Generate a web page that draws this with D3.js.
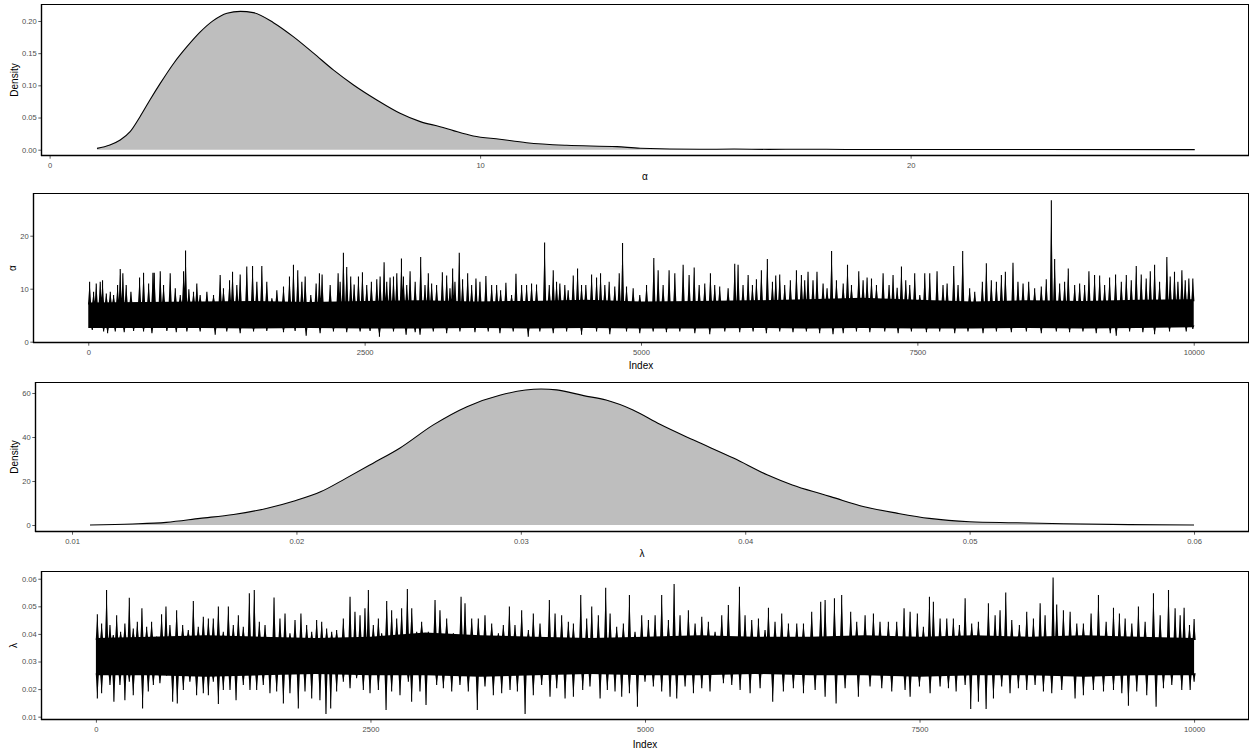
<!DOCTYPE html>
<html>
<head>
<meta charset="utf-8" />
<title>Posterior density and trace of alpha and lambda</title>
<script src="https://d3js.org/d3.v7.min.js"></script>
<style>
  body { margin: 0; background: #fff; }
  text { font-family: "Liberation Sans", Arial, sans-serif; }
</style>
</head>
<body>
<svg width="1249" height="754"></svg>
<script>
// ---- density of alpha: [alpha, density]
const alphaDensity = [
  [1.10,0.0021],[1.40,0.0073],[1.64,0.015],[1.87,0.028],[2.10,0.0513],[2.33,0.0772],
  [2.57,0.103],[2.88,0.134],[3.19,0.160],[3.50,0.183],[3.80,0.2005],[4.12,0.212],
  [4.43,0.215],[4.73,0.213],[5.20,0.1974],[5.66,0.1757],[6.13,0.150],[6.59,0.124],
  [7.06,0.1006],[7.60,0.0773],[8.14,0.0566],[8.61,0.0436],[9.07,0.0358],[9.38,0.0296],
  [9.84,0.0213],[10.46,0.0162],[11.08,0.0109],[12.01,0.0068],[13.18,0.0047],[13.72,0.0022],
  [15.1,0.0006],[15.9,0.001],[16.7,0.0005],[17.5,0.0008],[18.5,0.0004],[20,0.0003],
  [23,0.0002],[26.6,0.0001]
];

// ---- density of lambda: [lambda, density]
const lambdaDensity = [
  [0.0108,0],[0.0127,0.45],[0.0142,1.2],[0.0157,3.0],[0.0172,4.8],[0.0187,7.6],
  [0.0199,10.9],[0.0211,15.2],[0.0222,21.2],[0.0234,28.0],[0.0246,34.9],[0.0261,45.5],
  [0.0276,53.8],[0.0291,59.1],[0.0309,61.8],[0.0316,61.4],[0.0328,58.8],[0.0338,56.8],
  [0.0350,52.3],[0.0362,45.8],[0.0377,38.6],[0.0395,30.3],[0.0410,22.7],[0.0421,18.2],
  [0.0433,14.4],[0.0438,12.9],[0.0453,8.3],[0.0468,5.3],[0.0482,3.0],[0.0500,1.5],
  [0.0520,1.05],[0.0542,0.6],[0.0571,0.15],[0.0600,0]
];

// ---- trace plots: dense core band every 500 iterations
const coreIdx = [0,500,1000,1500,2000,2500,3000,3500,4000,4500,5000,5500,6000,6500,7000,7500,8000,8500,9000,9500,10000];
const alphaCoreHi = [7.4,7.5,7.6,7.7,7.5,7.7,7.8,7.6,7.7,7.9,7.6,7.7,7.8,8.0,8.3,7.9,7.6,7.8,7.7,7.9,8.0];
const alphaCoreLo = [2.6,2.6,2.6,2.5,2.6,2.5,2.5,2.6,2.5,2.6,2.5,2.5,2.6,2.5,2.6,2.5,2.5,2.6,2.5,2.6,2.7];
const lambdaCoreHi = [0.0385,0.039,0.0395,0.039,0.0385,0.039,0.0405,0.0395,0.039,0.0385,0.039,0.0395,0.039,0.039,0.0395,0.039,0.0395,0.039,0.0395,0.039,0.0385];
const lambdaCoreLo = [0.025,0.025,0.0245,0.025,0.0255,0.025,0.025,0.0245,0.025,0.0255,0.025,0.025,0.0255,0.025,0.025,0.0245,0.025,0.025,0.0245,0.025,0.025];

// ---- single draws that stick out of the band: [iteration, value]
const alphaUp = [
  [12,11.3],[48,9.4],[72,11],[108,11.3],[129,11.6],[163,9.1],[199,9.4],[229,8.8],[265,10.7],[289,13.7],
  [313,12.9],[343,10.7],[386,9.4],[464,12.1],[500,13.0],[546,11],[585,13],[597,13],[651,13.3],[681,10.7],
  [741,12.9],[787,10.1],[832,8.8],[862,13.3],[880,17.2],[910,9.9],[952,9.4],[982,11],[1012,8.8],[1073,9.4],
  [1133,8.8],[1193,12.6],[1223,10.1],[1278,11.6],[1305,13.2],[1344,10.7],[1374,12.7],[1434,14.2],[1486,14.3],
  [1525,11.3],[1570,14.3],[1615,11.3],[1661,8.2],[1706,9.7],[1766,10.4],[1820,12.3],[1856,14.5],[1895,13.5],
  [1932,11.3],[1962,12.3],[2013,8.8],[2061,11],[2091,12.9],[2115,12.7],[2188,10.7],[2260,12.9],[2278,11.3],
  [2308,16.8],[2338,14.1],[2374,12.3],[2405,10.8],[2444,12.3],[2480,13.1],[2519,10.7],[2561,11.3],[2610,11.8],
  [2640,12.3],[2676,15],[2700,11.3],[2730,12.1],[2761,12.3],[2791,12.9],[2833,15.7],[2851,12.3],[2881,10.7],
  [2911,13.3],[2957,11.3],[3007,16],[3046,10.7],[3076,12.9],[3106,11],[3151,10.7],[3203,13.1],[3242,12.5],
  [3272,10.1],[3296,13.8],[3317,11.3],[3356,16.8],[3386,11.8],[3432,12.9],[3468,10.7],[3507,11.9],[3543,11.3],
  [3597,12.4],[3649,10.7],[3694,10.7],[3730,9.7],[3778,11.1],[3829,8.8],[3869,12.8],[3920,10.7],[3965,10.7],
  [4010,11],[4055,10.8],[4128,18.7],[4170,10.7],[4206,13.5],[4236,11.3],[4266,11],[4311,10.7],[4341,9.7],
  [4387,12.5],[4426,13.8],[4462,10.7],[4501,10.7],[4553,12.7],[4598,12.1],[4634,12.9],[4673,10.7],[4712,11.3],
  [4763,10.4],[4803,12.9],[4833,18.6],[4869,10.4],[4929,10.1],[4989,8.8],[5050,10.7],[5116,15.8],[5155,13.5],
  [5200,10.7],[5254,13.5],[5306,12.9],[5381,14.5],[5435,12.6],[5481,14],[5526,10.7],[5577,11],[5628,12.9],
  [5667,10.7],[5712,10.4],[5788,10.1],[5848,14.7],[5878,14.5],[5923,10.7],[5969,12.6],[6008,10.7],[6044,11.8],
  [6089,13.5],[6143,15.6],[6189,11.3],[6219,12.5],[6255,12.7],[6300,10.7],[6351,11.6],[6406,13.5],[6451,12.6],
  [6481,11.6],[6511,13.2],[6556,11.6],[6592,13.2],[6647,11],[6683,10.1],[6724,17.1],[6768,11.6],[6829,11],
  [6868,14.5],[6904,10.7],[6970,13.3],[7009,11.6],[7045,12.1],[7085,11.9],[7130,10.7],[7190,12.9],[7244,10.7],
  [7280,12.6],[7317,10.2],[7356,14.2],[7395,11.6],[7431,10.7],[7476,12.9],[7522,8.8],[7567,12.9],[7612,12.9],
  [7678,13.3],[7732,10.7],[7769,11],[7829,14.3],[7868,10.7],[7910,17.1],[7973,10.1],[8019,9.4],[8088,11.3],
  [8124,14.8],[8169,11.6],[8215,11.3],[8260,12.6],[8296,13.2],[8365,14.9],[8410,11.3],[8456,11],[8507,11.3],
  [8561,10.1],[8621,10.4],[8666,11.8],[8712,26.7],[8742,15.6],[8787,11],[8832,11.3],[8865,13.8],[8923,10.7],
  [8968,11],[9013,10.7],[9052,13.3],[9103,12.6],[9149,12.5],[9194,10.7],[9239,12.1],[9293,12.7],[9345,11.3],
  [9390,12.6],[9435,11.6],[9480,14.3],[9525,12.7],[9570,11.9],[9607,13.3],[9646,14.5],[9691,11.3],[9757,16],
  [9787,12.3],[9826,13.2],[9857,11.3],[9893,13.5],[9923,11.6],[9956,11.9],[9992,11.9]
];
const alphaDown = [
  [36,2.2],[139,1.9],[175,1.6],[244,1.9],[325,1.8],[410,2.0],[500,1.9],[576,1.6],[711,2.0],[796,1.8],
  [892,1.9],[1012,1.9],[1148,1.3],[1253,1.9],[1374,1.6],[1495,1.9],[1615,2.0],[1766,1.8],[1871,2.0],[1971,1.1],
  [2097,1.6],[2218,1.9],[2338,1.8],[2459,1.9],[2549,2.0],[2634,0.95],[2761,1.9],[2875,1.3],[2957,1.8],[3001,1.3],
  [3121,1.9],[3242,1.6],[3362,1.9],[3498,1.8],[3618,1.9],[3724,1.6],[3844,1.9],[3980,0.95],[4085,1.9],[4206,1.6],
  [4327,1.9],[4462,1.3],[4598,1.9],[4718,1.4],[4869,1.9],[4989,1.6],[5110,1.9],[5230,1.8],[5351,1.9],[5487,1.6],
  [5622,1.4],[5758,1.9],[5893,1.8],[6014,1.9],[6134,1.6],[6255,1.9],[6375,1.8],[6496,1.9],[6616,1.6],[6737,1.4],
  [6829,1.6],[6949,1.9],[7070,1.8],[7205,1.9],[7326,1.6],[7446,1.9],[7582,1.8],[7702,1.9],[7838,1.6],[7958,1.9],
  [8094,1.6],[8215,1.9],[8350,1.8],[8486,1.9],[8621,1.6],[8757,1.9],[8877,1.8],[8998,1.9],[9118,1.6],[9245,1.6],
  [9299,1.1],[9420,1.9],[9540,1.8],[9646,1.4],[9781,1.9],[9932,1.9],[9992,2.4]
];
const lambdaUp = [
  [13,0.0471],[52,0.0438],[97,0.0559],[128,0.0432],[158,0.0396],[189,0.0468],[225,0.0408],[264,0.0438],
  [304,0.0531],[340,0.042],[377,0.0444],[419,0.0493],[462,0.0426],[507,0.0444],[553,0.0384],[598,0.0471],
  [638,0.0499],[674,0.0432],[735,0.0486],[790,0.0432],[841,0.0414],[887,0.0519],[932,0.0426],[978,0.0462],
  [1024,0.0456],[1069,0.0456],[1115,0.0499],[1160,0.0408],[1206,0.0499],[1251,0.0432],[1297,0.0468],[1342,0.0426],
  [1397,0.0547],[1442,0.0559],[1488,0.0444],[1540,0.0432],[1585,0.0366],[1622,0.0532],[1676,0.0456],[1722,0.0474],
  [1767,0.0402],[1813,0.045],[1867,0.0474],[1919,0.0432],[1965,0.0408],[2010,0.045],[2056,0.0444],[2101,0.042],
  [2147,0.0408],[2192,0.0414],[2253,0.0456],[2314,0.0535],[2359,0.048],[2405,0.0468],[2450,0.0493],[2481,0.0559],
  [2526,0.0432],[2572,0.0456],[2602,0.0402],[2648,0.0519],[2693,0.0486],[2739,0.0456],[2784,0.0493],[2836,0.0563],
  [2876,0.0493],[2921,0.0408],[2966,0.0444],[3027,0.0408],[3088,0.0523],[3133,0.0486],[3194,0.0456],[3255,0.0402],
  [3325,0.0535],[3361,0.0511],[3422,0.0456],[3482,0.0456],[3543,0.0468],[3604,0.0438],[3665,0.0402],[3710,0.0432],
  [3765,0.0499],[3816,0.0432],[3877,0.0486],[3938,0.0414],[3983,0.0474],[4044,0.0438],[4129,0.0523],[4181,0.0474],
  [4241,0.0468],[4302,0.0444],[4348,0.0438],[4415,0.0541],[4469,0.0456],[4515,0.0499],[4575,0.0468],[4642,0.0567],
  [4682,0.0474],[4742,0.0426],[4803,0.0438],[4858,0.0541],[4909,0.0408],[4970,0.0468],[5031,0.045],[5092,0.0468],
  [5152,0.0541],[5213,0.045],[5265,0.0581],[5319,0.0468],[5395,0.0486],[5456,0.0438],[5517,0.0462],[5577,0.0444],
  [5638,0.0408],[5699,0.0468],[5759,0.0505],[5860,0.0571],[5911,0.0468],[5972,0.045],[6033,0.0456],[6093,0.0414],
  [6124,0.0495],[6184,0.0444],[6245,0.0474],[6306,0.0438],[6382,0.0438],[6443,0.0438],[6518,0.048],[6600,0.0517],
  [6640,0.0523],[6725,0.0529],[6791,0.0541],[6873,0.048],[6928,0.0444],[7004,0.0468],[7080,0.0474],[7140,0.0444],
  [7216,0.0444],[7292,0.0444],[7359,0.0493],[7414,0.048],[7480,0.0474],[7535,0.0426],[7590,0.0535],[7626,0.0517],
  [7687,0.0456],[7748,0.0456],[7808,0.0456],[7863,0.0432],[7915,0.0529],[7975,0.0438],[8036,0.0444],[8127,0.0511],
  [8188,0.0468],[8233,0.0486],[8285,0.055],[8340,0.045],[8409,0.0432],[8476,0.048],[8537,0.0456],[8598,0.0511],
  [8643,0.0468],[8716,0.0604],[8749,0.0507],[8810,0.0486],[8871,0.048],[8932,0.0438],[8992,0.0438],[9062,0.0474],
  [9129,0.0541],[9199,0.0444],[9266,0.0495],[9320,0.0474],[9372,0.0456],[9433,0.0438],[9493,0.0499],[9554,0.0444],
  [9630,0.0547],[9691,0.0468],[9767,0.0559],[9827,0.0493],[9873,0.0468],[9909,0.0495],[9958,0.0432],[10000,0.0454]
];
const lambdaDown = [
  [13,0.0166],[52,0.0185],[128,0.0215],[164,0.0154],[219,0.0215],[264,0.016],[304,0.0227],[340,0.0178],
  [425,0.013],[477,0.0191],[523,0.0215],[583,0.0221],[644,0.0251],[699,0.0154],[741,0.0148],[796,0.0197],
  [856,0.0227],[917,0.0178],[978,0.0185],[1024,0.0178],[1069,0.0227],[1115,0.0146],[1160,0.0197],[1221,0.0197],
  [1276,0.016],[1342,0.0215],[1403,0.0197],[1464,0.0197],[1524,0.0215],[1585,0.0185],[1646,0.0191],[1707,0.0148],
  [1767,0.0185],[1843,0.013],[1904,0.0191],[1965,0.0166],[2040,0.016],[2095,0.011],[2138,0.013],[2192,0.0191],
  [2253,0.0227],[2314,0.0203],[2374,0.0239],[2435,0.0197],[2496,0.0185],[2572,0.0197],[2642,0.0124],[2693,0.0191],
  [2769,0.0178],[2845,0.0227],[2875,0.0154],[2951,0.0191],[3006,0.0142],[3103,0.0215],[3164,0.0203],[3240,0.0191],
  [3315,0.0215],[3391,0.0191],[3473,0.0124],[3543,0.0209],[3619,0.0178],[3695,0.0185],[3771,0.0197],[3838,0.0191],
  [3908,0.011],[3983,0.0178],[4059,0.0215],[4135,0.0172],[4196,0.0203],[4272,0.0166],[4348,0.0172],[4433,0.0197],
  [4499,0.0209],[4591,0.0166],[4657,0.0197],[4727,0.0191],[4788,0.0172],[4858,0.0185],[4931,0.0136],[5000,0.0227],
  [5076,0.0209],[5152,0.0191],[5228,0.0172],[5289,0.0166],[5365,0.0209],[5441,0.0185],[5517,0.0203],[5592,0.0191],
  [5714,0.0221],[5790,0.0215],[5866,0.0197],[5957,0.0185],[6048,0.0203],[6163,0.0154],[6260,0.0191],[6351,0.0203],
  [6443,0.0185],[6549,0.0197],[6640,0.0172],[6740,0.0148],[6822,0.0203],[6943,0.0172],[7049,0.0209],[7156,0.0203],
  [7247,0.0191],[7368,0.0197],[7414,0.0172],[7499,0.0209],[7596,0.0185],[7687,0.0209],[7763,0.0203],[7833,0.0191],
  [7915,0.0215],[7966,0.0128],[8036,0.0154],[8106,0.0128],[8173,0.0166],[8248,0.0209],[8324,0.0185],[8400,0.0203],
  [8476,0.0197],[8552,0.0215],[8628,0.0191],[8704,0.0185],[8795,0.0197],[8916,0.0166],[8992,0.0178],[9083,0.0197],
  [9175,0.0191],[9266,0.0197],[9342,0.0185],[9402,0.014],[9478,0.0191],[9569,0.0178],[9654,0.0136],[9721,0.0203],
  [9797,0.0215],[9888,0.0197],[9964,0.0197],[10000,0.0227]
];

// ---- tick labels
const alphaDensXTicks = [0, 10, 20];
const alphaDensYTicks = [0, 0.05, 0.10, 0.15, 0.20];
const indexTicks = [0, 2500, 5000, 7500, 10000];
const alphaTraceYTicks = [0, 10, 20];
const lambdaDensXTicks = [0.01, 0.02, 0.03, 0.04, 0.05, 0.06];
const lambdaDensYTicks = [0, 20, 40, 60];
const lambdaTraceYTicks = [0.01, 0.02, 0.03, 0.04, 0.05, 0.06];

const svg = d3.select("svg");
const W = 1249;

function panel(opt) {
  const { top, bottom, left } = opt;
  const right = W;
  const x = d3.scaleLinear().domain(opt.xDomain).range([left, right]);
  const y = d3.scaleLinear().domain(opt.yDomain).range([bottom, top]);
  const g = svg.append("g");

  const clipId = "clip" + top;
  g.append("clipPath").attr("id", clipId)
    .append("rect").attr("x", left).attr("y", top)
    .attr("width", right - left).attr("height", bottom - top);
  const plot = g.append("g").attr("clip-path", `url(#${clipId})`);

  const xa = g.append("g").attr("transform", `translate(0,${bottom})`)
    .call(d3.axisBottom(x).tickValues(opt.xTicks).tickFormat(opt.xFmt).tickSize(2.7).tickPadding(3.5));
  const ya = g.append("g").attr("transform", `translate(${left},0)`)
    .call(d3.axisLeft(y).tickValues(opt.yTicks).tickFormat(opt.yFmt).tickSize(2.7).tickPadding(1.5));
  [xa, ya].forEach(a => {
    a.select(".domain").remove();
    a.selectAll(".tick line").attr("stroke", "#333333").attr("stroke-width", 0.8);
    a.selectAll(".tick text").attr("fill", "#4D4D4D").style("font-size", "7.6px")
      .style("font-family", '"Liberation Sans", Arial, sans-serif');
  });

  g.append("text").attr("x", (left + right) / 2).attr("y", opt.xTitleY)
    .attr("text-anchor", "middle").style("font-size", "10px").attr("fill", "#000")
    .text(opt.xTitle);
  g.append("text")
    .attr("transform", `translate(${opt.yTitleX},${(top + bottom) / 2}) rotate(-90)`)
    .attr("text-anchor", "middle").style("font-size", "10px").attr("fill", "#000")
    .text(opt.yTitle);

  return { x, y, plot, g, top, bottom, left, right };
}

function border(p) {
  p.g.append("rect").attr("x", p.left + 0.5).attr("y", p.top + 0.5)
    .attr("width", p.right - p.left - 1).attr("height", p.bottom - p.top - 1)
    .attr("fill", "none").attr("stroke", "#000").attr("stroke-width", 1);
  p.g.append("line").attr("x1", p.left).attr("x2", p.right)
    .attr("y1", p.bottom - 0.5).attr("y2", p.bottom - 0.5)
    .attr("stroke", "#000").attr("stroke-width", 1.4);
  p.g.append("line").attr("x1", p.left + 0.5).attr("x2", p.left + 0.5)
    .attr("y1", p.top).attr("y2", p.bottom)
    .attr("stroke", "#000").attr("stroke-width", 1.4);
}

function density(p, data) {
  const area = d3.area().curve(d3.curveMonotoneX)
    .x(d => p.x(d[0])).y0(p.y(0)).y1(d => p.y(d[1]));
  const line = d3.line().curve(d3.curveMonotoneX)
    .x(d => p.x(d[0])).y(d => p.y(d[1]));
  p.plot.append("path").attr("d", area(data)).attr("fill", "#BEBEBE");
  p.plot.append("path").attr("d", line(data)).attr("fill", "none")
    .attr("stroke", "#000").attr("stroke-width", 1.1);
}

// trace: dense band, then each outlying draw as a thin blade rising from the band edge
function trace(p, lo, hi, up, down) {
  const band = coreIdx.map((i, k) => [i, lo[k], hi[k]]);
  const area = d3.area().x(d => p.x(d[0])).y0(d => p.y(d[1])).y1(d => p.y(d[2]));
  p.plot.append("path").attr("d", area(band)).attr("fill", "#000");

  const hiAt = d3.scaleLinear().domain(coreIdx).range(hi);
  const loAt = d3.scaleLinear().domain(coreIdx).range(lo);
  const halfBase = 1.6; // px
  const blade = (edge, sink) => d => {
    const xc = p.x(d[0]);
    const yb = p.y(edge(d[0])) + sink;
    return `M${(xc - halfBase).toFixed(2)},${yb.toFixed(2)}L${xc.toFixed(2)},${p.y(d[1]).toFixed(2)}L${(xc + halfBase).toFixed(2)},${yb.toFixed(2)}Z`;
  };
  p.plot.append("path")
    .attr("d", up.map(blade(hiAt, 2)).join("") + down.map(blade(loAt, -2)).join(""))
    .attr("fill", "#000");
  const seg = edge => d => `M${p.x(d[0]).toFixed(2)},${p.y(edge(d[0])).toFixed(2)}V${p.y(d[1]).toFixed(2)}`;
  p.plot.append("path")
    .attr("d", up.map(seg(hiAt)).join("") + down.map(seg(loAt)).join(""))
    .attr("fill", "none").attr("stroke", "#000").attr("stroke-width", 1.1);
}

const f2 = d3.format(".2f"), f0 = d3.format("d");

// panel 1: density of alpha
const p1 = panel({
  top: 4, bottom: 156, left: 41,
  xDomain: [-0.2, 27.86], yDomain: [-0.0098, 0.2264],
  xTicks: alphaDensXTicks, yTicks: alphaDensYTicks, xFmt: f0, yFmt: f2,
  xTitle: "α", xTitleY: 179.5, yTitle: "Density", yTitleX: 17.5
});
density(p1, alphaDensity);
border(p1);

// panel 2: trace of alpha
const p2 = panel({
  top: 193, bottom: 343, left: 33,
  xDomain: [-500, 10500], yDomain: [-0.25, 28.06],
  xTicks: indexTicks, yTicks: alphaTraceYTicks, xFmt: f0, yFmt: f0,
  xTitle: "Index", xTitleY: 369, yTitle: "α", yTitleX: 16
});
trace(p2, alphaCoreLo, alphaCoreHi, alphaUp, alphaDown);
border(p2);

// panel 3: density of lambda
const p3 = panel({
  top: 382, bottom: 532, left: 35,
  xDomain: [0.00835, 0.06245], yDomain: [-3.18, 65],
  xTicks: lambdaDensXTicks, yTicks: lambdaDensYTicks, xFmt: f2, yFmt: f0,
  xTitle: "λ", xTitleY: 556.5, yTitle: "Density", yTitleX: 17.5
});
density(p3, lambdaDensity);
border(p3);

// panel 4: trace of lambda
const p4 = panel({
  top: 571, bottom: 720, left: 41,
  xDomain: [-500, 10500], yDomain: [0.0088, 0.0628],
  xTicks: indexTicks, yTicks: lambdaTraceYTicks, xFmt: f0, yFmt: f2,
  xTitle: "Index", xTitleY: 747.5, yTitle: "λ", yTitleX: 17
});
trace(p4, lambdaCoreLo, lambdaCoreHi, lambdaUp, lambdaDown);
border(p4);
</script>
</body>
</html>
